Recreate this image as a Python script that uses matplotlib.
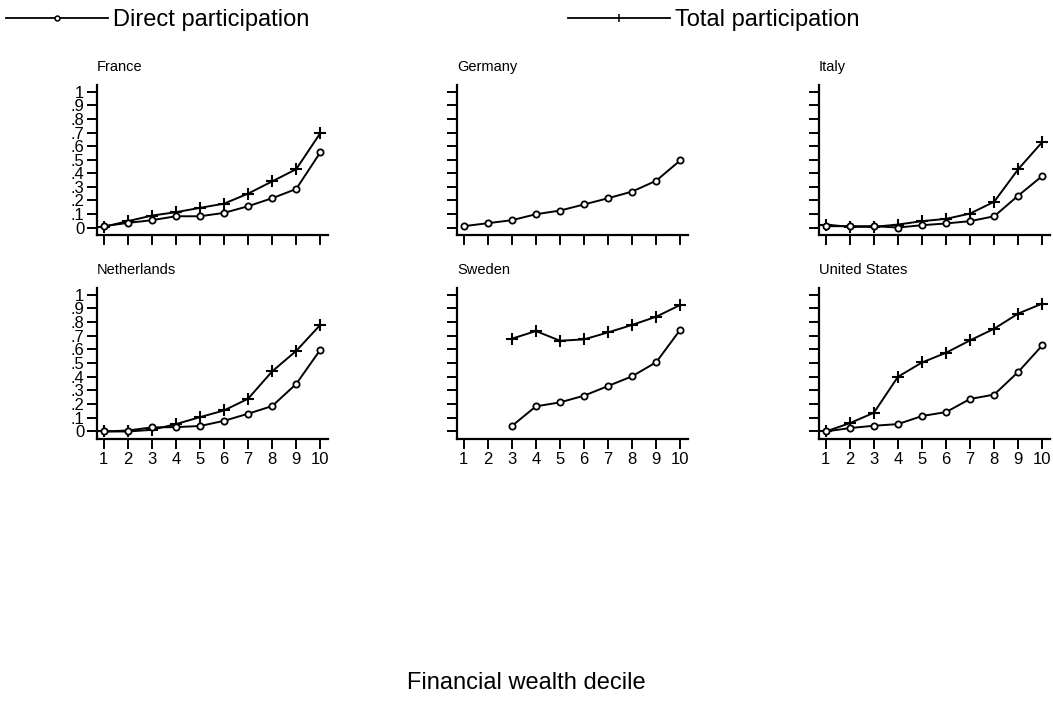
import matplotlib
matplotlib.use("Agg")
import matplotlib.pyplot as plt
from matplotlib.lines import Line2D
import numpy as np

plt.rcParams['font.family'] = ['Liberation Sans', 'DejaVu Sans']

deciles = list(range(1, 11))
yticks = [0, 0.1, 0.2, 0.3, 0.4, 0.5, 0.6, 0.7, 0.8, 0.9, 1.0]
ytick_labels = ["0", ".1", ".2", ".3", ".4", ".5", ".6", ".7", ".8", ".9", "1"]

countries = ["France", "Germany", "Italy", "Netherlands", "Sweden", "United States"]

france_direct = [0.01, 0.034, 0.054, 0.083, 0.083, 0.108, 0.157, 0.216, 0.284, 0.554]
france_total = [0.005, 0.047, 0.088, 0.113, 0.145, 0.176, 0.25, 0.34, 0.43, 0.696]

germany_direct = [0.01, 0.032, 0.054, 0.098, 0.125, 0.17, 0.216, 0.265, 0.345, 0.495]
germany_total = [None] * 10

italy_direct = [0.01, 0.01, 0.01, 0.0, 0.017, 0.03, 0.047, 0.083, 0.235, 0.38]
italy_total = [0.022, 0.005, 0.005, 0.022, 0.047, 0.064, 0.103, 0.19, 0.43, 0.63]

netherlands_direct = [0.0, 0.007, 0.03, 0.032, 0.04, 0.078, 0.13, 0.186, 0.348, 0.598]
netherlands_total = [0.0, 0.0, 0.012, 0.054, 0.105, 0.154, 0.24, 0.44, 0.59, 0.78]

sweden_direct = [None, None, 0.04, 0.184, 0.213, 0.262, 0.333, 0.404, 0.507, 0.745]
sweden_total = [None, None, 0.679, 0.735, 0.664, 0.674, 0.725, 0.78, 0.84, 0.926]

us_direct = [0.0, 0.025, 0.042, 0.054, 0.113, 0.142, 0.238, 0.27, 0.436, 0.63]
us_total = [0.0, 0.061, 0.137, 0.40, 0.505, 0.576, 0.667, 0.752, 0.863, 0.936]

direct_series = [france_direct, germany_direct, italy_direct,
                 netherlands_direct, sweden_direct, us_direct]
total_series = [france_total, germany_total, italy_total,
                netherlands_total, sweden_total, us_total]

W, H = 1053, 711
fig = plt.figure(figsize=(W / 100, H / 100), dpi=100)

col_left = [97, 457, 819]
ax_w = 231
row_top = [85, 288]
ax_h = [150, 151]


def to_arr(v):
    return np.array([np.nan if x is None else x for x in v], dtype=float)


for i, name in enumerate(countries):
    r, c = divmod(i, 3)
    left = col_left[c] / W
    bottom = 1 - (row_top[r] + ax_h[r]) / H
    ax = fig.add_axes([left, bottom, ax_w / W, ax_h[r] / H])
    d = to_arr(direct_series[i])
    t = to_arr(total_series[i])
    if not np.all(np.isnan(t)):
        ax.plot(deciles, t, color='black', lw=1.4, marker='+', ms=9, mew=1.5,
                clip_on=False)
    ax.plot(deciles, d, color='black', lw=1.4, marker='o', ms=4.5, mew=1.3,
            mfc='white', mec='black', clip_on=False)
    ax.set_xlim(0.72, 10.32)
    ax.set_ylim(-0.055, 1.05)
    ax.set_xticks(deciles)
    ax.set_yticks(yticks)
    for s in ['top', 'right']:
        ax.spines[s].set_visible(False)
    for s in ['left', 'bottom']:
        ax.spines[s].set_linewidth(1.6)
    ax.tick_params(direction='out', length=7.5, width=1.4, labelsize=12,
                   pad=1.5, colors='black')
    if c == 0:
        ax.set_yticklabels(ytick_labels)
    else:
        ax.set_yticklabels([])
    if r == 1:
        ax.set_xticklabels([str(x) for x in deciles])
    else:
        ax.set_xticklabels([])
    ax.set_title(name, loc='left', fontsize=10.5, pad=10)

# legend
h_direct = Line2D([0], [0], color='black', lw=1.3, marker='o', ms=3.5, mew=1.1,
                  mfc='white', mec='black')
h_total = Line2D([0], [0], color='black', lw=1.3, marker='|', ms=6, mew=1.1)
fig.legend(handles=[h_direct], labels=["Direct participation"], loc='center left',
           bbox_to_anchor=(6 / W, 1 - 20 / H), frameon=False, fontsize=17,
           handlelength=4.3, handletextpad=0.25, borderpad=0, borderaxespad=0)
fig.legend(handles=[h_total], labels=["Total participation"], loc='center left',
           bbox_to_anchor=(568 / W, 1 - 20 / H), frameon=False, fontsize=17,
           handlelength=4.3, handletextpad=0.25, borderpad=0, borderaxespad=0)

fig.text(0.5, 1 - 683 / H, "Financial wealth decile", ha='center', va='center',
         fontsize=17)

fig.savefig("out.png", dpi=100)
